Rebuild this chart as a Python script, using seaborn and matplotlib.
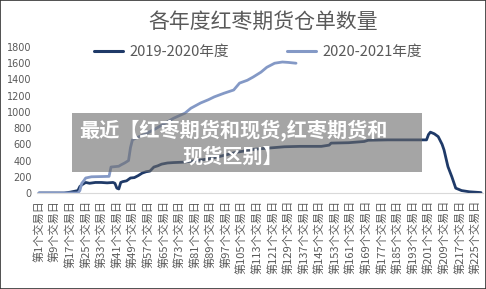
import matplotlib
matplotlib.use("Agg")
import matplotlib.pyplot as plt
import seaborn as sns
import pandas as pd
from matplotlib.patches import Rectangle

# ---- data ----
season_a = "2019-2020年度"
season_b = "2020-2021年度"

days_a = [1, 14, 17, 19, 21, 22, 23, 25, 27, 30, 33, 36, 39, 40, 41, 42, 43, 44, 46, 48,
          50, 52, 54, 56, 58, 60, 62, 64, 67, 70, 75, 82, 88, 92, 97, 102, 107, 112, 117,
          122, 127, 135, 146, 150, 151, 160, 168, 170, 180, 190, 200, 201, 202, 204, 206,
          208, 209, 211, 213, 215, 218, 222, 228]
vals_a = [0, 0, 10, 20, 30, 80, 100, 130, 120, 130, 130, 125, 130, 120, 60, 50, 130, 140, 150, 185,
          190, 215, 245, 262, 270, 320, 335, 356, 370, 375, 380, 400, 420, 440, 470, 500, 520, 540, 550,
          560, 570, 575, 575, 590, 615, 620, 635, 650, 655, 655, 655, 720, 750, 730, 695,
          600, 530, 325, 200, 60, 30, 15, 5]

days_b = [1, 21, 22, 23, 24, 25, 28, 37, 38, 42, 43, 45, 47, 48, 49, 51, 55, 60, 65, 70,
          76, 79, 84, 88, 91, 96, 101, 104, 108, 111, 115, 118, 122, 126, 129, 133]
vals_b = [0, 0, 30, 120, 150, 185, 200, 205, 320, 330, 345, 370, 400, 560, 655, 680, 720, 780, 850, 920,
          985, 1045, 1110, 1150, 1185, 1230, 1270, 1355, 1390, 1430, 1490, 1550, 1600, 1615, 1610, 1600]

tick_days = list(range(1, 226, 8))
tick_labels = [f"第{d}个交易日" for d in tick_days]
y_ticks = [0, 200, 400, 600, 800, 1000, 1200, 1400, 1600, 1800]

title = "各年度红枣期货仓单数量"
overlay_1 = "最近【红枣期货和现货,红枣期货和"
overlay_2 = "现货区别】"

df = pd.concat([
    pd.DataFrame({"day": days_a, "value": vals_a, "season": season_a}),
    pd.DataFrame({"day": days_b, "value": vals_b, "season": season_b}),
], ignore_index=True)

# ---- plotting ----
sns.set_theme(style="white")
plt.rcParams["font.family"] = ["Noto Sans CJK SC", "DejaVu Sans"]

fig = plt.figure(figsize=(4.86, 2.89), dpi=100)
ax = fig.add_axes([37 / 486, (289 - 193) / 289, (483 - 37) / 486, (193 - 47) / 289])

palette = {season_a: "#1f3a68", season_b: "#8499c6"}
sns.lineplot(data=df, x="day", y="value", hue="season", palette=palette,
             linewidth=2.0, ax=ax, legend=False, estimator=None, sort=True)

ax.set_xlim(0.0, 229)
ax.set_ylim(0, 1800)
ax.set_xlabel("")
ax.set_ylabel("")
for s in ["top", "right", "left"]:
    ax.spines[s].set_visible(False)
ax.spines["bottom"].set_color("#d9d9d9")
ax.spines["bottom"].set_linewidth(0.8)
ax.grid(False)

ax.set_yticks(y_ticks)
ax.set_yticklabels([str(v) for v in y_ticks], fontsize=7, color="#595959",
                   family=["DejaVu Sans"])
ax.set_xticks(tick_days)
ax.set_xticklabels(tick_labels, rotation=90, fontsize=8, color="#595959")
ax.tick_params(axis="x", length=0, pad=5)
ax.tick_params(axis="y", length=0, pad=4)

fig.text(263 / 486, 1 - 22 / 289, title, ha="center", va="center",
         fontsize=15, color="#595959")

handles = [plt.Line2D([], [], color=palette[season_a], lw=2.2),
           plt.Line2D([], [], color=palette[season_b], lw=2.2)]
fig.legend(handles, [season_a, season_b], ncol=2, loc="center",
           bbox_to_anchor=(258 / 486, 1 - 52 / 289), frameon=False,
           fontsize=10.5, labelcolor="#595959", handlelength=2.0,
           handletextpad=0.4, columnspacing=4.0)

# overlay box with text
fig.patches.append(Rectangle((72 / 486, 1 - 172 / 289), (422 - 72) / 486, (172 - 113) / 289,
                             transform=fig.transFigure, facecolor="#6a6a6a", alpha=0.6,
                             edgecolor="none", zorder=10))
fig.text(233 / 486, 1 - 130 / 289, overlay_1, ha="center", va="center", fontsize=14.5,
         fontweight="bold", color="white", zorder=11)
fig.text(233 / 486, 1 - 156 / 289, overlay_2, ha="center", va="center", fontsize=14.5,
         fontweight="bold", color="white", zorder=11)

# outer border
fig.patches.append(Rectangle((0, 0), 1, 1, transform=fig.transFigure, fill=False,
                             edgecolor="#333333", linewidth=1.2, zorder=12))

fig.savefig("out.png", dpi=100)
